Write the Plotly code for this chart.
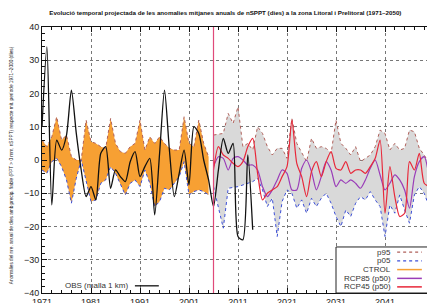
import plotly.graph_objects as go

# ---------------- data ----------------
years_obs = list(range(1971, 2015))
obs = [10, 34, -13.5, 6, 3, 7.5, 21, 8, -3, -11, -8, -12, 2, 4, -8.5, -3, -5, -6.5, -0.5, 2.5,
       -5, -2, 0.5, -16.5, 2, 21, 3, -11, -4, 3, -7.5, 10, 8, 0, -6, -14, -3, 6.5, 2, 5,
       -23, -24, 1.5, -21]

years_ctrl = list(range(1971, 2006))
ctrl_p95 = [6, 4, 7, 13, 6, 7.5, 1, 0, 0, 12,
            5.5, 5, 4, 3.5, 12.5, 5, 2.5, 2, 4, 5,
            12, 3, 7, 5, 7, 5, 3.5, 3, 3, 13,
            5, 4, 12, 5, 1]
ctrl_p05 = [-3, -4, -0.5, 0.5, -2, -6, -13, -5.5, 0, -6,
            -12.5, -12, -7, -6, -2, -4, -7, -10.5, -7, -6,
            -8, -3, -7, -14, -12.5, -8.5, -9, -7, -5, -0.5,
            -10.5, -9.5, -9, -9.5, -10.5]

years_fut = list(range(2006, 2051))
fut_p95 = [7.5, 7.7, 8, 14, 11, 16, 4, 5, 3, 10,
           8, 4, 1.5, 3.5, 3.5, 0.5, 12.5, 5, 2, -0.5,
           6.5, 3.5, 4, 3.5, 2, 12, 5, 3.5, 1.5, 4,
           -0.5, 0.5, 1.5, 4, 9, 8, 3, 5, 3, 3.5,
           9, 8.5, 3.5, 1.5, -1]
fut_p05 = [-8, -14, -20.5, -8.5, -8.3, -8, -7.5, -7, -6.5, -5.5,
           -9, -14, -11.5, -23, -12.5, -9, -10, -14.5, -12, -16,
           -11.5, -14, -11.5, -10, -13, -17, -20, -15, -17, -13,
           -11, -12, -9.5, -12, -14, -23, -13.5, -16, -10.5, -15,
           -19, -10.5, -8, -10, -14]
rcp85_p50 = [-2, 1, 0.5, -3, 0.5, 1, 0, -1.5, -1.5, -3,
             -8, -11, -9, -6, -3, -4, -9, -9, -2.5, 0,
             -3.5, -9, -5, -0.5, -3, -8, -6, -7, -6, -7,
             -8.5, -6, -2.5, 0, -4.5, -9, -7, -4.5, -6, -9,
             -14.5, -5, -0.5, 1, -5]
rcp45_p50 = [-3, 4, 1.5, 0.5, -1, -2, -0.5, 4, 6.5, -4,
             -12, -10, -9, -8, -5, -2, 12, -1, -5, -11,
             -3.5, -0.5, -5, -0.5, 2.5, -2.5, -3, -0.5, -4, -3,
             -3, -4, -2, 0.5, 6, -16, -2, -11, -17, -16,
             -0.5, -3, 2, -7, -8]

split_year = 2006
x_ticks = [1971, 1981, 1991, 2001, 2011, 2021, 2031, 2041, 2051]
y_ticks = [-40, -30, -20, -10, 0, 10, 20, 30, 40]

legend_labels = ["p95", "p05", "CTROL", "RCP85 (p50)", "RCP45 (p50)"]
obs_label = "OBS (malla 1 km)"

# ---------------- styles ----------------
C_ORANGE = "#f7a033"
C_GREY = "#d9d9d9"
C_P95 = "#b0605a"
C_P05 = "#3c4fd8"
C_R85 = "#9a3cb8"
C_R45 = "#e8283a"
C_OBS = "#111111"
FONT = "Liberation Sans"

fig = go.Figure()

fig.add_trace(go.Scatter(x=years_ctrl, y=ctrl_p05, mode="lines",
                         line=dict(color=C_P05, width=1, dash="dot"), showlegend=False))
fig.add_trace(go.Scatter(x=years_ctrl, y=ctrl_p95, mode="lines", fill="tonexty",
                         fillcolor=C_ORANGE, line=dict(color=C_P95, width=1, dash="dot"),
                         showlegend=False))
fig.add_trace(go.Scatter(x=years_fut, y=fut_p05, mode="lines",
                         line=dict(color=C_P05, width=1, dash="dot"), showlegend=False))
fig.add_trace(go.Scatter(x=years_fut, y=fut_p95, mode="lines", fill="tonexty",
                         fillcolor=C_GREY, line=dict(color=C_P95, width=1, dash="dot"),
                         showlegend=False))
fig.add_trace(go.Scatter(x=years_fut, y=rcp85_p50, mode="lines",
                         line=dict(color=C_R85, width=1.2, shape="spline", smoothing=0.7),
                         showlegend=False))
fig.add_trace(go.Scatter(x=years_fut, y=rcp45_p50, mode="lines",
                         line=dict(color=C_R45, width=1.2, shape="spline", smoothing=0.7),
                         showlegend=False))
fig.add_trace(go.Scatter(x=years_obs, y=obs, mode="lines",
                         line=dict(color=C_OBS, width=1.3, shape="spline", smoothing=0.7),
                         showlegend=False))

shapes = [
    dict(type="line", xref="x", yref="paper", x0=split_year, x1=split_year, y0=0, y1=1,
         line=dict(color="#e04a7a", width=1.2), layer="above"),
    # legend box
    dict(type="rect", xref="paper", yref="paper", x0=0.75, x1=1.02, y0=0, y1=0.173,
         fillcolor="white", line=dict(color="#222", width=1), layer="above"),
]
annotations = []
leg_y = [0.154, 0.121, 0.088, 0.055, 0.023]
leg_style = [(C_P95, "dot", 1.2), (C_P05, "dot", 1.2), (C_ORANGE, "solid", 1.5),
             (C_R85, "solid", 1.5), (C_R45, "solid", 1.5)]
for lab, yy, (col, dsh, w) in zip(legend_labels, leg_y, leg_style):
    annotations.append(dict(xref="paper", yref="paper", x=0.895, y=yy, text=lab,
                            showarrow=False, xanchor="right", yanchor="middle",
                            font=dict(family=FONT, size=8, color="#333")))
    shapes.append(dict(type="line", xref="paper", yref="paper", x0=0.906, x1=0.969,
                       y0=yy, y1=yy, line=dict(color=col, width=w, dash=dsh), layer="above"))

annotations.append(dict(xref="paper", yref="paper", x=0.2245, y=0.027, text=obs_label,
                        showarrow=False, xanchor="right", yanchor="middle",
                        font=dict(family=FONT, size=8, color="#333")))
shapes.append(dict(type="line", xref="paper", yref="paper", x0=0.237, x1=0.298,
                   y0=0.027, y1=0.027, line=dict(color=C_OBS, width=1.3), layer="above"))

annotations.append(dict(xref="paper", yref="paper", x=-0.077, y=0.48,
                        text="Anomalies del nre. anual de dies amb precip. fiable (PPT > 0 mm, nSPPT) respecte mit. període 1971–2000 (dies)",
                        textangle=-90, showarrow=False, xanchor="center", yanchor="middle",
                        font=dict(family=FONT, size=4.7, color="#222")))

# the page body adds an 8 px offset, so the figure is sized/placed to compensate
fig.update_layout(
    width=427, height=295,
    margin=dict(l=34, r=1, t=19, b=10, autoexpand=False),
    paper_bgcolor="white", plot_bgcolor="white",
    title=dict(text="<b>Evolució temporal projectada de les anomalies mitjanes anuals de nSPPT (dies) a la zona Litoral i Prelitoral (1971–2050)</b>",
               x=0.509, xanchor="center", y=0.983, yanchor="middle",
               font=dict(family=FONT, size=6.2, color="#111")),
    shapes=shapes, annotations=annotations, showlegend=False,
)
axis_common = dict(showline=True, linecolor="#111", linewidth=1, mirror="allticks",
                   ticks="inside", ticklen=5, tickcolor="#111", automargin=False,
                   showgrid=True, gridcolor="#777", griddash="dot", gridwidth=1,
                   zeroline=False, layer="above traces",
                   tickfont=dict(family=FONT, size=9, color="#222"))
fig.update_xaxes(range=[1971, 2051], tickvals=x_ticks,
                 minor=dict(ticks="inside", ticklen=3, dtick=2, tick0=1971, tickcolor="#111",
                            showgrid=False), **axis_common)
fig.update_yaxes(range=[-40, 40], tickvals=y_ticks,
                 minor=dict(ticks="inside", ticklen=3, dtick=2, tick0=0, tickcolor="#111",
                            showgrid=False), **axis_common)

fig.write_html("out.html")
